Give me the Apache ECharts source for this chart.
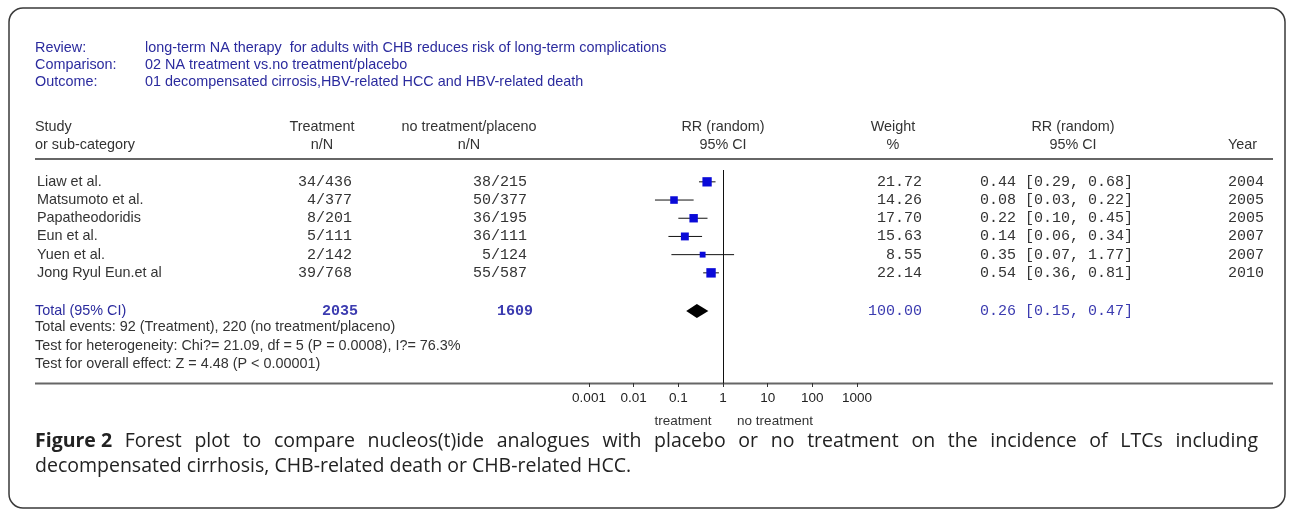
<!DOCTYPE html>
<html><head><meta charset="utf-8">
<script src="https://cdn.jsdelivr.net/npm/echarts@6/dist/echarts.min.js"></script>
<style>html,body{margin:0;padding:0;background:#fff;}#c{width:1293px;height:516px;}</style>
</head><body><div id="c"></div>
<script>
// ---------- data ----------
const metaLabels = ['Review:', 'Comparison:', 'Outcome:'];
const metaValues = [
  'long-term NA therapy  for adults with CHB reduces risk of long-term complications',
  '02 NA treatment vs.no treatment/placebo',
  '01 decompensated cirrosis,HBV-related HCC and HBV-related death'
];
const headTop = ['Study', 'Treatment', 'no treatment/placeno', 'RR (random)', 'Weight', 'RR (random)', ''];
const headBottom = ['or sub-category', 'n/N', 'n/N', '95% CI', '%', '95% CI', 'Year'];
const studies = ['Liaw et al.', 'Matsumoto et al.', 'Papatheodoridis', 'Eun et al.', 'Yuen et al.', 'Jong Ryul Eun.et al'];
const treatmentNN = ['34/436', '4/377', '8/201', '5/111', '2/142', '39/768'];
const controlNN = ['38/215', '50/377', '36/195', '36/111', '5/124', '55/587'];
const rr = [0.44, 0.08, 0.22, 0.14, 0.35, 0.54];
const ciLow = [0.29, 0.03, 0.10, 0.06, 0.07, 0.36];
const ciHigh = [0.68, 0.22, 0.45, 0.34, 1.77, 0.81];
const weights = [21.72, 14.26, 17.70, 15.63, 8.55, 22.14];
const years = ['2004', '2005', '2005', '2007', '2007', '2010'];
const totalLabel = 'Total (95% CI)';
const totalTreatment = '2035';
const totalControl = '1609';
const totalWeight = 100.00;
const totalRR = 0.26, totalLow = 0.15, totalHigh = 0.47;
const footLines = [
  'Total events: 92 (Treatment), 220 (no treatment/placeno)',
  'Test for heterogeneity: Chi?= 21.09, df = 5 (P = 0.0008), I?= 76.3%',
  'Test for overall effect: Z = 4.48 (P < 0.00001)'
];
const tickValues = [0.001, 0.01, 0.1, 1, 10, 100, 1000];
const tickLabels = ['0.001', '0.01', '0.1', '1', '10', '100', '1000'];
const favourLeft = 'treatment', favourRight = 'no treatment';
const captionBold = 'Figure 2';
const captionLine1 = 'Forest plot to compare nucleos(t)ide analogues with placebo or no treatment on the incidence of LTCs including';
const captionLine2 = 'decompensated cirrhosis, CHB-related death or CHB-related HCC.';

// ---------- layout ----------
const SANS = 'Arial, "Liberation Sans", sans-serif';
const MONO = '"Liberation Mono", "Courier New", monospace';
const CAP = '"Open Sans", sans-serif';
const TXT = '#333';
const BLUE = '#2b2b9e';
const BLUE2 = '#3b3bb0';
const BODY = '14.4px ' + SANS;
const totalRow = 7.1;
const rowIdx = studies.map((_, i) => i);

const chart = echarts.init(document.getElementById('c'), null, {renderer: 'canvas'});

const studyData = studies.map((s, i) => [ciLow[i], ciHigh[i], rr[i], weights[i], rowIdx[i]]);

chart.setOption({
  animation: false,
  backgroundColor: '#fff',
  grid: {left: 589, right: 436, top: 170, bottom: 133},
  xAxis: {
    type: 'log', logBase: 10, min: tickValues[0], max: tickValues[tickValues.length - 1],
    axisLine: {show: false, onZero: false},
    axisTick: {show: true, length: 4, lineStyle: {color: '#333'}},
    splitLine: {show: false},
    axisLabel: {
      color: '#222', fontFamily: SANS, fontSize: 13.5, margin: 8,
      formatter: v => tickLabels[tickValues.findIndex(t => Math.abs(Math.log10(t) - Math.log10(v)) < 1e-6)] || ''
    }
  },
  yAxis: {type: 'value', inverse: true, min: -0.65, max: 11.05, show: false},
  series: [
    {
      type: 'custom', name: 'studies', data: studyData,
      encode: {x: [0, 1, 2], y: 4},
      renderItem: (params, api) => {
        const row = api.value(4);
        const pl = api.coord([api.value(0), row]);
        const ph = api.coord([api.value(1), row]);
        const pc = api.coord([api.value(2), row]);
        const s = Math.sqrt(api.value(3)) * 2.0;
        return {type: 'group', children: [
          {type: 'line', shape: {x1: pl[0], y1: pl[1], x2: ph[0], y2: ph[1]}, style: {stroke: '#111', lineWidth: 1}},
          {type: 'rect', shape: {x: pc[0] - s / 2, y: pc[1] - s / 2, width: s, height: s}, style: {fill: '#0a0ad8'}}
        ]};
      },
      markLine: {
        silent: true, symbol: ['none', 'none'], label: {show: false},
        lineStyle: {color: '#111', width: 1, type: 'solid'},
        data: [{xAxis: 1}]
      }
    },
    {
      type: 'custom', name: 'total', data: [[totalLow, totalHigh, totalRR, totalRow]],
      encode: {x: [0, 1, 2], y: 3},
      renderItem: (params, api) => {
        const row = api.value(3);
        const pl = api.coord([api.value(0), row]);
        const ph = api.coord([api.value(1), row]);
        const pc = api.coord([api.value(2), row]);
        const h = 7;
        return {type: 'polygon', shape: {points: [[pl[0], pl[1]], [pc[0], pc[1] - h], [ph[0], ph[1]], [pc[0], pc[1] + h]]},
          style: {fill: '#000'}};
      }
    }
  ]
});

const Y = v => chart.convertToPixel({yAxisIndex: 0}, v);

function txt(x, y, text, opt) {
  opt = opt || {};
  return {type: 'text', x: x, y: y, silent: true, style: {
    text: text, fill: opt.fill || TXT, font: opt.font || BODY,
    align: opt.align || 'left', verticalAlign: 'middle'
  }};
}

const g = [];
// frame
g.push({type: 'rect', shape: {x: 9, y: 8, width: 1276, height: 500, r: 14}, style: {fill: 'none', stroke: '#3a3a3a', lineWidth: 1.5}, silent: true});
// meta block
metaLabels.forEach((l, i) => {
  g.push(txt(35, 48 + i * 17, l, {fill: BLUE}));
  g.push(txt(145, 48 + i * 17, metaValues[i], {fill: BLUE}));
});
// column headers
const colX = [35, 322, 469, 723, 893, 1073, 1257];
const colAlign = ['left', 'center', 'center', 'center', 'center', 'center', 'right'];
headTop.forEach((h, i) => { if (h) g.push(txt(colX[i], 127, h, {align: colAlign[i]})); });
headBottom.forEach((h, i) => { g.push(txt(colX[i], 145, h, {align: colAlign[i]})); });
// rules
g.push({type: 'line', shape: {x1: 35, y1: 159, x2: 1273, y2: 159}, style: {stroke: '#666', lineWidth: 2.2}, silent: true});
g.push({type: 'line', shape: {x1: 35, y1: 383.5, x2: 1273, y2: 383.5}, style: {stroke: '#666', lineWidth: 2.2}, silent: true});

const monoFont = '15px ' + MONO;
const fmt = v => v.toFixed(2);
studies.forEach((s, i) => {
  const y = Y(rowIdx[i]);
  g.push(txt(37, y, s));
  g.push(txt(352, y, treatmentNN[i], {font: monoFont, align: 'right'}));
  g.push(txt(527, y, controlNN[i], {font: monoFont, align: 'right'}));
  g.push(txt(922, y, fmt(weights[i]), {font: monoFont, align: 'right'}));
  g.push(txt(980, y, fmt(rr[i]) + ' [' + fmt(ciLow[i]) + ', ' + fmt(ciHigh[i]) + ']', {font: monoFont}));
  g.push(txt(1264, y, years[i], {font: monoFont, align: 'right'}));
});
// total row
const yt = Y(totalRow);
g.push(txt(35, yt, totalLabel, {fill: BLUE}));
g.push(txt(358, yt, totalTreatment, {font: 'bold ' + monoFont, fill: BLUE2, align: 'right'}));
g.push(txt(533, yt, totalControl, {font: 'bold ' + monoFont, fill: BLUE2, align: 'right'}));
g.push(txt(922, yt, fmt(totalWeight), {font: monoFont, fill: BLUE2, align: 'right'}));
g.push(txt(980, yt, fmt(totalRR) + ' [' + fmt(totalLow) + ', ' + fmt(totalHigh) + ']', {font: monoFont, fill: BLUE2}));
footLines.forEach((f, i) => g.push(txt(35, Y(8 + i), f)));
// favours labels
g.push(txt(683, 421, favourLeft, {align: 'center', font: '13.5px ' + SANS}));
g.push(txt(775, 421, favourRight, {align: 'center', font: '13.5px ' + SANS}));

// caption (line 1 justified)
const ctx = document.createElement('canvas').getContext('2d');
const capSize = 19.5;
const capReg = capSize + 'px ' + CAP;
const capBold = 'bold ' + capSize + 'px ' + CAP;
const words = [{t: captionBold, f: capBold}].concat(captionLine1.split(' ').map(w => ({t: w, f: capReg})));
words.forEach(w => { ctx.font = w.f; w.w = ctx.measureText(w.t).width; });
const sumW = words.reduce((a, w) => a + w.w, 0);
const gap = (1258 - 35 - sumW) / (words.length - 1);
let cx = 35;
words.forEach(w => { g.push(txt(cx, 441, w.t, {font: w.f, fill: '#222'})); cx += w.w + gap; });
g.push(txt(35, 466, captionLine2, {font: capReg, fill: '#222'}));

chart.setOption({graphic: {elements: g}});
</script></body></html>
